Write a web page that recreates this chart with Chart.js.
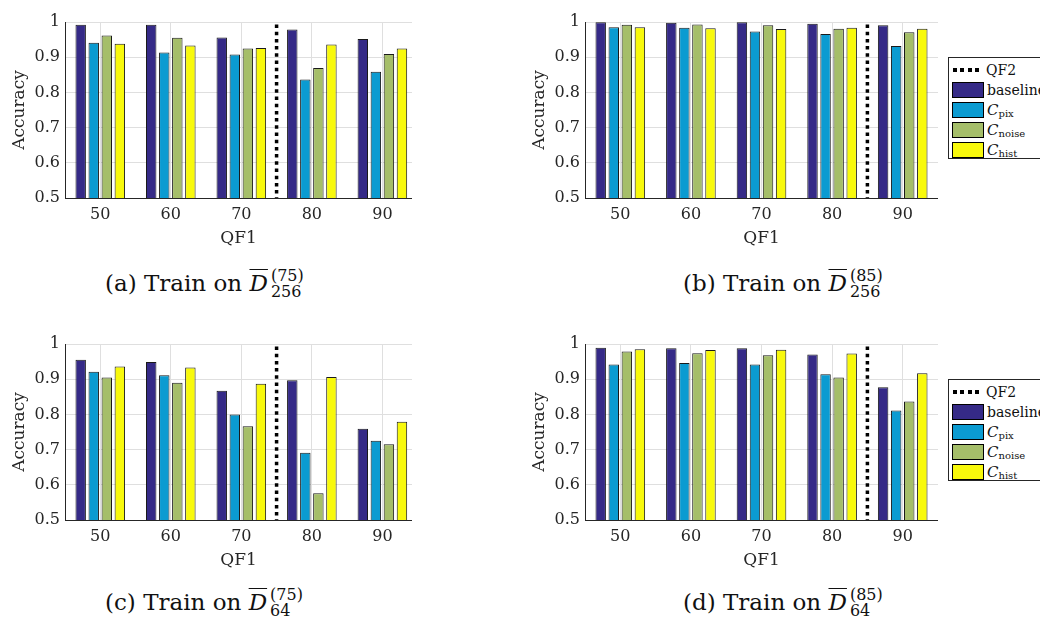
<!DOCTYPE html>
<html>
<head>
<meta charset="utf-8">
<script src="https://cdn.jsdelivr.net/npm/chart.js@4/dist/chart.umd.min.js"></script>
<style>
  html, body { margin: 0; padding: 0; background: #fff; }
  body { width: 1040px; height: 621px; overflow: hidden; position: relative; font-family: "DejaVu Serif", serif; color: #262626; }
  canvas { position: absolute; }
  .cap { position: absolute; font-size: 23px; line-height: 23px; white-space: nowrap; color: #111; }
  .cap .D { font-style: italic; text-decoration: overline; text-decoration-thickness: 1px; padding-right: 2px; }
  .ss { display: inline-block; position: relative; width: 40px; height: 0; }
  .ss span { position: absolute; left: 1px; font-size: 16px; line-height: 16px; }
  .ss .up { top: -23px; }
  .ss .dn { top: -7px; }
  .legend { position: absolute; border: 1px solid #262626; background: #fff; width: 110px; height: 102px; box-sizing: border-box; padding-top: 2px; }
  .row { height: 20px; display: flex; align-items: center; font-size: 14px; color: #111; }
  .sw { width: 30px; height: 14px; border: 1px solid #000; margin-left: 3px; margin-right: 3px; flex: none; }
  .dots { width: 30px; height: 4px; margin-left: 4px; margin-right: 3px; flex: none;
          background: repeating-linear-gradient(to right, #000 0 4px, transparent 4px 7.5px); }
  .row i { font-style: italic; font-size: 15px; }
  .row sub { font-size: 10px; position: relative; top: 4px; line-height: 0; vertical-align: baseline; }
</style>
</head>
<body>
<canvas id="chartA" width="412" height="250" style="left:0px; top:0px"></canvas>
<canvas id="chartB" width="418" height="250" style="left:520px; top:0px"></canvas>
<canvas id="chartC" width="412" height="250" style="left:0px; top:322px"></canvas>
<canvas id="chartD" width="418" height="250" style="left:520px; top:322px"></canvas>

<div class="cap" style="left:105px; top:272px">(a) Train on <span class="D">D</span><span class="ss"><span class="up">(75)</span><span class="dn">256</span></span></div>
<div class="cap" style="left:683px; top:272px">(b) Train on <span class="D">D</span><span class="ss"><span class="up">(85)</span><span class="dn">256</span></span></div>
<div class="cap" style="left:105px; top:591px">(c) Train on <span class="D">D</span><span class="ss"><span class="up">(75)</span><span class="dn">64</span></span></div>
<div class="cap" style="left:683px; top:591px">(d) Train on <span class="D">D</span><span class="ss"><span class="up">(85)</span><span class="dn">64</span></span></div>

<div class="legend" style="left:948px; top:57px">
  <div class="row"><span class="dots"></span>QF2</div>
  <div class="row"><span class="sw" style="background:#352a87"></span>baseline</div>
  <div class="row"><span class="sw" style="background:#0b9bd1"></span><i>C</i><sub>pix</sub></div>
  <div class="row"><span class="sw" style="background:#a5be69"></span><i>C</i><sub>noise</sub></div>
  <div class="row"><span class="sw" style="background:#f8f90c"></span><i>C</i><sub>hist</sub></div>
</div>
<div class="legend" style="left:948px; top:379px">
  <div class="row"><span class="dots"></span>QF2</div>
  <div class="row"><span class="sw" style="background:#352a87"></span>baseline</div>
  <div class="row"><span class="sw" style="background:#0b9bd1"></span><i>C</i><sub>pix</sub></div>
  <div class="row"><span class="sw" style="background:#a5be69"></span><i>C</i><sub>noise</sub></div>
  <div class="row"><span class="sw" style="background:#f8f90c"></span><i>C</i><sub>hist</sub></div>
</div>

<script>
// QF1 values on the x axis
const qf1 = [50, 60, 70, 80, 90]
const yTicks = [0.5, 0.6, 0.7, 0.8, 0.9, 1]

// (a) train on D256, QF2 = 75
const baselineA = [0.992, 0.992, 0.956, 0.979, 0.952]
const pixA      = [0.941, 0.913, 0.908, 0.837, 0.859]
const noiseA    = [0.962, 0.955, 0.925, 0.869, 0.909]
const histA     = [0.938, 0.933, 0.926, 0.936, 0.925]

// (b) train on D256, QF2 = 85
const baselineB = [0.999, 0.998, 0.999, 0.995, 0.991]
const pixB      = [0.985, 0.984, 0.973, 0.966, 0.932]
const noiseB    = [0.992, 0.993, 0.991, 0.981, 0.971]
const histB     = [0.985, 0.982, 0.980, 0.984, 0.981]

// (c) train on D64, QF2 = 75
const baselineC = [0.955, 0.949, 0.867, 0.897, 0.759]
const pixC      = [0.921, 0.911, 0.800, 0.691, 0.725]
const noiseC    = [0.905, 0.890, 0.766, 0.576, 0.715]
const histC     = [0.936, 0.933, 0.887, 0.906, 0.779]

// (d) train on D64, QF2 = 85
const baselineD = [0.989, 0.988, 0.988, 0.970, 0.877]
const pixD      = [0.942, 0.946, 0.942, 0.914, 0.811]
const noiseD    = [0.979, 0.974, 0.968, 0.905, 0.837]
const histD     = [0.985, 0.983, 0.984, 0.973, 0.917]

const qf2 = [75, 85, 75, 85]

const seriesNames = ['baseline', 'C_pix', 'C_noise', 'C_hist']
const seriesColors = ['#352a87', '#0b9bd1', '#a5be69', '#f8f90c']

const axisColor = '#262626'
const gridColor = '#dfdfdf'
const tickFont = { family: 'DejaVu Serif', size: 16 }
const titleFont = { family: 'DejaVu Serif', size: 17 }

// dotted vertical line marking QF2
const qf2Line = {
  id: 'qf2Line',
  afterDatasetsDraw(chart, args, opts) {
    const { ctx, chartArea, scales } = chart
    const x = scales.x.getPixelForValue(opts.value)
    ctx.save()
    ctx.strokeStyle = '#000'
    ctx.lineWidth = 3.5
    ctx.setLineDash([3.5, 3.7])
    ctx.beginPath()
    ctx.moveTo(x, chartArea.top + 2.5)
    ctx.lineTo(x, chartArea.bottom)
    ctx.stroke()
    ctx.restore()
  }
}

function makePanel(id, series, qf2Value, xMax) {
  const datasets = series.map((values, i) => ({
    label: seriesNames[i],
    data: values.map((v, j) => ({ x: qf1[j], y: v })),
    backgroundColor: seriesColors[i],
    borderColor: '#1a1a1a',
    borderWidth: 1,
    categoryPercentage: 0.74,
    barPercentage: 0.8
  }))

  return new Chart(document.getElementById(id), {
    type: 'bar',
    data: { datasets },
    plugins: [qf2Line],
    options: {
      responsive: false,
      animation: false,
      devicePixelRatio: 1,
      layout: { padding: { top: 22, right: 0, bottom: 0, left: 0 } },
      scales: {
        x: {
          type: 'linear',
          min: 45,
          max: xMax,
          offset: false,
          afterFit: s => { s.height = 52 },
          afterBuildTicks: s => { s.ticks = qf1.map(v => ({ value: v })) },
          grid: { color: gridColor, offset: false, drawTicks: false },
          border: { color: axisColor, width: 1 },
          ticks: { color: axisColor, font: tickFont, padding: 7, callback: v => String(v) },
          title: { display: true, text: 'QF1', color: axisColor, font: titleFont, padding: { top: 0, bottom: 1 } }
        },
        y: {
          min: 0.5,
          max: 1,
          afterFit: s => { s.width = 65 },
          afterBuildTicks: s => { s.ticks = yTicks.map(v => ({ value: v })) },
          grid: { color: gridColor, drawTicks: false },
          border: { color: axisColor, width: 1 },
          ticks: { color: axisColor, font: tickFont, padding: 5, callback: v => String(parseFloat(v.toFixed(1))) },
          title: { display: true, text: 'Accuracy', color: axisColor, font: titleFont, padding: { top: 9, bottom: 0 } }
        }
      },
      plugins: {
        legend: { display: false },
        tooltip: { enabled: false },
        qf2Line: { value: qf2Value }
      }
    }
  })
}

makePanel('chartA', [baselineA, pixA, noiseA, histA], qf2[0], 94.2)
makePanel('chartB', [baselineB, pixB, noiseB, histB], qf2[1], 95)
makePanel('chartC', [baselineC, pixC, noiseC, histC], qf2[2], 94.2)
makePanel('chartD', [baselineD, pixD, noiseD, histD], qf2[3], 95)
</script>
</body>
</html>
